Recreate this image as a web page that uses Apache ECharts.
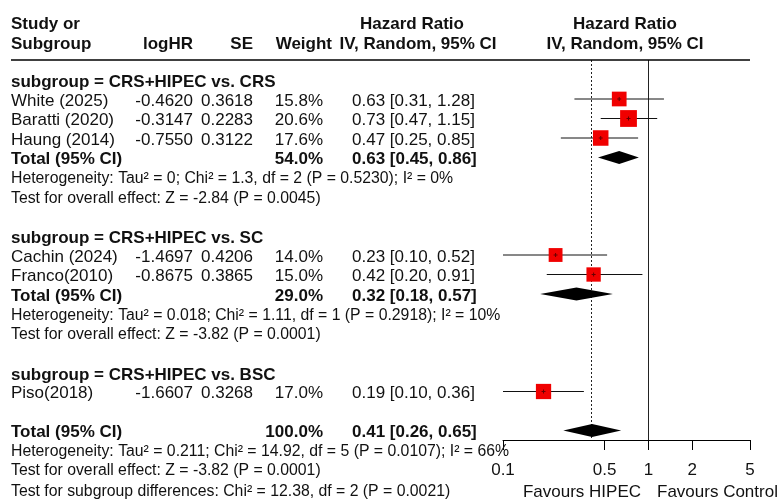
<!DOCTYPE html>
<html><head><meta charset="utf-8">
<script src="https://cdn.jsdelivr.net/npm/echarts@6/dist/echarts.min.js"></script>
<style>html,body{margin:0;padding:0;background:#fff}#c{width:777px;height:499px}</style>
</head><body><div id="c"></div>
<script>
// ---------- data ----------
const groupTitles = ['subgroup = CRS+HIPEC vs. CRS', 'subgroup = CRS+HIPEC vs. SC', 'subgroup = CRS+HIPEC vs. BSC'];
const studies = ['White (2025)', 'Baratti (2020)', 'Haung (2014)', 'Cachin (2024)', 'Franco(2010)', 'Piso(2018)'];
const studyGroup = [0, 0, 0, 1, 1, 2];
const logHR = ['-0.4620', '-0.3147', '-0.7550', '-1.4697', '-0.8675', '-1.6607'];
const se = ['0.3618', '0.2283', '0.3122', '0.4206', '0.3865', '0.3268'];
const weight = [15.8, 20.6, 17.6, 14.0, 15.0, 17.0];
const hr = [0.63, 0.73, 0.47, 0.23, 0.42, 0.19];
const hrLow = [0.31, 0.47, 0.25, 0.10, 0.20, 0.10];
const hrHigh = [1.28, 1.15, 0.85, 0.52, 0.91, 0.36];

const groupWeight = [54.0, 29.0];
const groupHR = [0.63, 0.32];
const groupLow = [0.45, 0.18];
const groupHigh = [0.86, 0.57];
const groupHet = [
  'Heterogeneity: Tau² = 0; Chi² = 1.3, df = 2 (P = 0.5230); I² = 0%',
  'Heterogeneity: Tau² = 0.018; Chi² = 1.11, df = 1 (P = 0.2918); I² = 10%'
];
const groupTest = ['Test for overall effect: Z = -2.84 (P = 0.0045)', 'Test for overall effect: Z = -3.82 (P = 0.0001)'];

const overallWeight = 100.0;
const overallHR = 0.41, overallLow = 0.26, overallHigh = 0.65;
const overallHet = 'Heterogeneity: Tau² = 0.211; Chi² = 14.92, df = 5 (P = 0.0107); I² = 66%';
const overallTest = 'Test for overall effect: Z = -3.82 (P = 0.0001)';
const subgroupTest = 'Test for subgroup differences: Chi² = 12.38, df = 2 (P = 0.0021)';

const xTicks = [0.1, 0.5, 1, 2, 5];
const favours = ['Favours HIPEC', 'Favours Control'];

// ---------- layout ----------
const ROW_H = 19.5, PLOT_TOP = 60, PLOT_BOTTOM = 440, W = 777, H = 499;
const TEXT_SHIFT = 2 / ROW_H;
const FONT = '"Liberation Sans", Arial, sans-serif';
const fmtHR = (e, l, h) => e.toFixed(2) + ' [' + l.toFixed(2) + ', ' + h.toFixed(2) + ']';

// build rows
const texts = [];
const studyRows = [], diamonds = [];
function T(t, x, r, align, bold, size) { texts.push({ t, x, r: r + TEXT_SHIFT, align, bold, size }); }
T('Study or', 11, -1.95, 'left', true, 17);
T('Subgroup', 11, -0.92, 'left', true, 17);
T('logHR', 193, -0.92, 'right', true, 17);
T('SE', 253, -0.92, 'right', true, 17);
T('Weight', 332, -0.92, 'right', true, 17);
T('Hazard Ratio', 412, -1.95, 'center', true, 17);
T('IV, Random, 95% CI', 418, -0.92, 'center', true, 17);
T('Hazard Ratio', 625, -1.95, 'center', true, 17);
T('IV, Random, 95% CI', 625, -0.92, 'center', true, 17);

let r = 1;
for (let g = 0; g < groupTitles.length; g++) {
  T(groupTitles[g], 11, r + 0.05, 'left', true, 17); r++;
  studies.forEach((s, i) => {
    if (studyGroup[i] !== g) return;
    T(s, 11, r, 'left', false, 17);
    T(logHR[i], 193, r, 'right', false, 17);
    T(se[i], 253, r, 'right', false, 17);
    T(weight[i].toFixed(1) + '%', 323, r, 'right', false, 17);
    T(fmtHR(hr[i], hrLow[i], hrHigh[i]), 352, r, 'left', false, 17);
    studyRows.push([Math.log10(hrLow[i]), Math.log10(hrHigh[i]), Math.log10(hr[i]), r, weight[i]]);
    r++;
  });
  if (g < groupWeight.length) {
    T('Total (95% CI)', 11, r, 'left', true, 17);
    T(groupWeight[g].toFixed(1) + '%', 323, r, 'right', true, 17);
    T(fmtHR(groupHR[g], groupLow[g], groupHigh[g]), 352, r, 'left', true, 17);
    diamonds.push([Math.log10(groupLow[g]), Math.log10(groupHigh[g]), Math.log10(groupHR[g]), r]);
    r++;
    T(groupHet[g], 11, r, 'left', false, 15.8); r++;
    T(groupTest[g], 11, r, 'left', false, 15.8); r++;
  }
  r++;
}
// overall
T('Total (95% CI)', 11, r, 'left', true, 17);
T(overallWeight.toFixed(1) + '%', 323, r, 'right', true, 17);
T(fmtHR(overallHR, overallLow, overallHigh), 352, r, 'left', true, 17);
diamonds.push([Math.log10(overallLow), Math.log10(overallHigh), Math.log10(overallHR), r]);
r++;
T(overallHet, 11, r, 'left', false, 15.8); r++;
T(overallTest, 11, r - 0.05, 'left', false, 15.8); r++;
T(subgroupTest, 11, r + 0.05, 'left', false, 15.8);
T(favours[0], 641, r + 0.05, 'right', false, 17);
T(favours[1], 657, r + 0.05, 'left', false, 17);

const xMin = Math.log10(xTicks[0]), xMax = Math.log10(xTicks[xTicks.length - 1]);
const gridLeft = 503, gridRight = 750;

const chart = echarts.init(document.getElementById('c'), null, { renderer: 'canvas' });
chart.setOption({
  animation: false,
  backgroundColor: '#fff',
  grid: [
    { left: gridLeft, right: W - gridRight, top: PLOT_TOP, bottom: H - PLOT_BOTTOM },
    { left: 0, right: 0, top: 0, bottom: 0 }
  ],
  xAxis: [
    {
      gridIndex: 0, type: 'value', min: xMin, max: xMax,
      splitLine: { show: false },
      axisLine: { show: true, onZero: false, lineStyle: { color: '#000', width: 1 } },
      axisTick: { show: true, length: 10, customValues: xTicks.map(v => Math.log10(v)), lineStyle: { color: '#000' } },
      axisLabel: {
        show: true, margin: 22, color: '#111', fontSize: 17, fontFamily: FONT,
        customValues: xTicks.map(v => Math.log10(v)),
        formatter: v => { const t = xTicks.find(t => Math.abs(Math.log10(t) - v) < 1e-6); return t === undefined ? '' : String(t); }
      }
    },
    { gridIndex: 1, type: 'value', min: 0, max: W, show: false }
  ],
  yAxis: [
    { gridIndex: 0, type: 'value', inverse: true, min: 0, max: (PLOT_BOTTOM - PLOT_TOP) / ROW_H, show: false },
    { gridIndex: 1, type: 'value', inverse: true, min: -PLOT_TOP / ROW_H, max: (H - PLOT_TOP) / ROW_H, show: false }
  ],
  graphic: [
    { type: 'line', shape: { x1: 11, y1: PLOT_TOP, x2: gridRight, y2: PLOT_TOP }, style: { stroke: '#000', lineWidth: 1.3 }, z: 10 }
  ],
  series: [
    {
      type: 'custom', xAxisIndex: 0, yAxisIndex: 0, clip: false, z: 5,
      data: studyRows,
      renderItem: (params, api) => {
        const row = api.value(3);
        const a = api.coord([api.value(0), row]);
        const b = api.coord([api.value(1), row]);
        const c = api.coord([api.value(2), row]);
        const s = 3.7 * Math.sqrt(api.value(4));
        return {
          type: 'group', children: [
            { type: 'line', shape: { x1: a[0], y1: a[1], x2: b[0], y2: b[1] }, style: { stroke: '#111', lineWidth: 1 } },
            { type: 'rect', shape: { x: c[0] - s / 2, y: c[1] - s / 2, width: s, height: s }, style: { fill: '#f00000' } },
            { type: 'line', shape: { x1: c[0] - 2, y1: c[1], x2: c[0] + 2, y2: c[1] }, style: { stroke: '#600', lineWidth: 1 } },
            { type: 'line', shape: { x1: c[0], y1: c[1] - 2, x2: c[0], y2: c[1] + 2 }, style: { stroke: '#600', lineWidth: 1 } }
          ]
        };
      },
      markLine: {
        silent: true, symbol: 'none', label: { show: false }, animation: false,
        data: [
          { xAxis: 0, lineStyle: { color: '#222', type: 'solid', width: 1 } },
          { xAxis: Math.log10(overallHR), lineStyle: { color: '#222', type: [2, 2], width: 1 } }
        ]
      }
    },
    {
      type: 'custom', xAxisIndex: 0, yAxisIndex: 0, clip: false, z: 6,
      data: diamonds,
      renderItem: (params, api) => {
        const row = api.value(3);
        const a = api.coord([api.value(0), row]);
        const b = api.coord([api.value(1), row]);
        const c = api.coord([api.value(2), row]);
        const h = 6.5;
        return { type: 'polygon', shape: { points: [[a[0], a[1]], [c[0], c[1] - h], [b[0], b[1]], [c[0], c[1] + h]] }, style: { fill: '#000' } };
      }
    },
    {
      type: 'custom', xAxisIndex: 1, yAxisIndex: 1, clip: false, z: 8,
      data: texts.map(d => [d.x, d.r]),
      renderItem: (params, api) => {
        const d = texts[params.dataIndex];
        const p = api.coord([api.value(0), api.value(1)]);
        return {
          type: 'text', x: p[0], y: p[1],
          style: {
            text: d.t, fill: '#111', align: d.align, verticalAlign: 'middle',
            font: (d.bold ? 'bold ' : '') + d.size + 'px ' + FONT
          }
        };
      }
    }
  ]
});
</script>
</body></html>
